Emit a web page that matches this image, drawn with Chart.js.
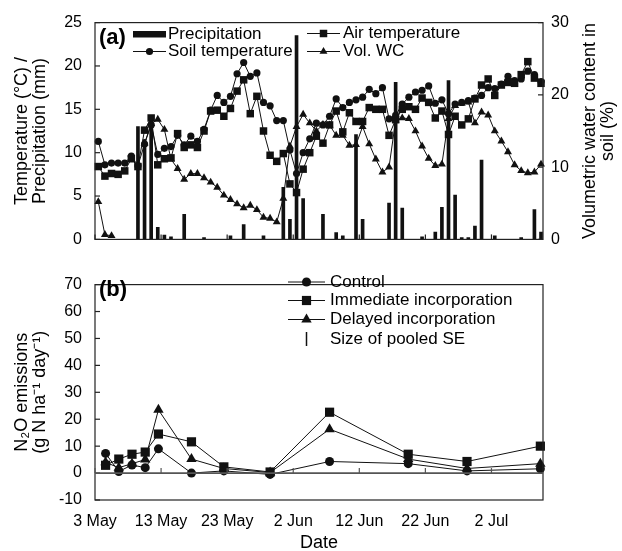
<!DOCTYPE html>
<html>
<head>
<meta charset="utf-8">
<script src="https://cdn.jsdelivr.net/npm/chart.js@4.4.1/dist/chart.umd.min.js"></script>
<style>
html,body{margin:0;padding:0;background:#fff;}
#wrap{position:relative;width:622px;height:551px;overflow:hidden;}
#ca{position:absolute;left:0;top:0;}
#cb{position:absolute;left:0;top:262px;}
</style>
</head>
<body>
<div id="wrap">
<canvas id="ca" width="622" height="262"></canvas>
<canvas id="cb" width="622" height="289"></canvas>
</div>
<script>
// ---------- DATA ----------
// Date axis: days after 3 May; tick labels every 10 days
const tickDays   = [0, 10, 20, 30, 40, 50, 60];
const tickLabels = ['3 May', '13 May', '23 May', '2 Jun', '12 Jun', '22 Jun', '2 Jul'];

// Panel (a): daily series, first value on 3 May (plotted at mid-day)
const dayOffset = 0.5;
const airTemp = [8.4,7.3,7.6,7.5,7.9,9.3,8.4,12.6,14.0,8.6,9.3,9.4,12.2,10.6,10.9,10.6,12.5,14.8,14.9,14.2,
  15.1,17.1,18.4,14.5,16.5,12.5,9.7,9.0,9.9,6.4,5.4,8.1,10.0,11.9,11.1,13.2,14.8,12.4,14.6,13.6,
  13.6,15.2,15.0,15.0,12.0,13.8,15.0,15.3,15.0,16.3,15.8,14.0,14.8,12.1,14.2,13.2,13.9,16.2,17.8,18.5,
  16.6,17.8,18.1,18.0,19.0,20.5,18.6,18.0];
const soilTemp = [11.3,8.6,8.8,8.8,8.8,9.6,8.5,11.0,13.2,9.8,10.5,10.7,12.0,10.9,11.9,11.3,12.7,14.9,16.6,15.8,
  16.5,19.1,20.4,18.8,19.2,15.8,15.4,13.7,13.7,10.3,7.6,10.0,11.6,13.4,13.2,14.2,16.2,15.2,15.8,16.1,
  16.4,17.3,16.8,17.5,13.9,14.3,15.6,16.4,17.0,17.2,17.7,15.7,16.1,14.5,15.6,15.8,16.0,16.3,16.6,17.5,
  17.4,17.9,18.8,18.3,18.5,19.4,19.0,18.2];
const volWC = [5.2,0.65,0.5,null,null,null,null,13.3,16.0,16.6,15.2,11.1,9.8,8.3,9.1,9.1,8.5,7.9,7.2,6.1,
  5.5,4.9,4.35,4.7,4.1,3.05,2.9,2.4,5.65,12.9,15.6,17.3,16.1,15.0,15.9,15.8,14.4,14.4,13.0,13.1,
  15.6,13.2,11.1,9.3,10.0,16.5,16.8,16.7,15.0,12.9,11.2,10.2,10.4,16.7,18.5,18.8,19.0,16.1,17.6,17.2,
  15.0,13.6,12.1,10.3,9.5,9.2,9.3,10.4];
const precipitation = [0,0,0,0,0,0,13.0,11.5,13.8,1.4,0.5,0.3,0,2.9,0,0,0.2,0,0,0,
  0.4,0,1.7,0,0,0.4,0,0,6.0,2.3,23.5,4.7,0,0,2.9,0,0.8,0.4,0,12.1,
  2.3,0,0,0,4.2,18.1,3.6,0,0,0.3,0,0.85,3.7,18.3,5.1,0.2,0.2,1.55,9.15,0,
  0.4,0,0,0,0.2,0,3.45,0.85];

// Panel (b): N2O emissions on sampling days
const sampleDays = [1.6, 3.6, 5.6, 7.6, 9.6, 14.6, 19.5, 26.5, 35.5, 47.4, 56.3, 67.4];
const control    = [7.3, 0.6, 3.0, 2.0, 9.0, 0.0, 0.8, -0.5, 4.3, 3.5, 0.8, 1.6];
const immediate  = [2.9, 5.2, 7.0, 7.8, 14.5, 11.6, 2.3, 0.4, 22.6, 7.0, 4.3, 10.0];
const delayed    = [4.0, 2.0, 3.5, 5.0, 23.5, 5.2, 1.7, 0.2, 16.3, 5.2, 1.7, 3.5];

// ---------- STYLE ----------
const FONT = "'Liberation Sans', Arial, Helvetica, sans-serif";
const INK = '#111';
const AXIS = '#222';
const xMax = 67.8;

const daily = arr => arr.map((v, i) => ({x: i + dayOffset, y: v}));
const sampled = arr => arr.map((v, i) => ({x: sampleDays[i], y: v}));

function line(ctx, x1, y1, x2, y2) { ctx.beginPath(); ctx.moveTo(x1, y1); ctx.lineTo(x2, y2); ctx.stroke(); }
function marker(ctx, style, x, y, r) {
  ctx.beginPath();
  if (style === 'circle') { ctx.arc(x, y, r, 0, Math.PI * 2); }
  else if (style === 'rect') { const s = r * Math.SQRT1_2; ctx.rect(x - s, y - s, 2 * s, 2 * s); }
  else if (style === 'triangle') {
    ctx.moveTo(x, y - r);
    ctx.lineTo(x + r * Math.sin(2 * Math.PI / 3), y - r * Math.cos(2 * Math.PI / 3));
    ctx.lineTo(x + r * Math.sin(4 * Math.PI / 3), y - r * Math.cos(4 * Math.PI / 3));
    ctx.closePath();
  }
  ctx.fill();
}
function legendItem(ctx, x1, x2, y, style, r, label, tx) {
  ctx.strokeStyle = INK; ctx.lineWidth = 1;
  line(ctx, x1, y, x2, y);
  ctx.fillStyle = INK;
  marker(ctx, style, (x1 + x2) / 2, y, r);
  ctx.fillStyle = '#000';
  ctx.fillText(label, tx, y);
}

const lineDs = (label, data, style, r, axis) => ({
  type: 'line', label, data, yAxisID: axis || 'y',
  borderColor: INK, backgroundColor: INK, borderWidth: 1,
  pointStyle: style, pointRadius: r, pointHoverRadius: r,
  pointBackgroundColor: INK, pointBorderColor: INK, pointBorderWidth: 0,
  tension: 0, spanGaps: false, clip: false, order: 1
});

const tickFont = {family: FONT, size: 16};
const titleFont = {family: FONT, size: 18, lineHeight: 1.0};

// ---------- PANEL (a) ----------
const frameA = {
  id: 'frameA',
  afterDraw(chart) {
    const {ctx, chartArea: a, scales} = chart;
    ctx.save();
    ctx.strokeStyle = AXIS; ctx.lineWidth = 1.2;
    ctx.strokeRect(a.left, a.top, a.right - a.left, a.bottom - a.top);
    scales.y.ticks.forEach(t => { const y = scales.y.getPixelForValue(t.value); line(ctx, a.left, y, a.left + 5, y); });
    scales.y2.ticks.forEach(t => { const y = scales.y2.getPixelForValue(t.value); line(ctx, a.right, y, a.right - 5, y); });
    scales.x.ticks.forEach(t => { const x = scales.x.getPixelForValue(t.value); line(ctx, x, a.bottom, x, a.bottom - 5); });
    // right axis title (reads bottom to top, two lines)
    ctx.fillStyle = '#000';
    ctx.font = '18px ' + FONT;
    ctx.textAlign = 'center'; ctx.textBaseline = 'middle';
    const cy = (a.top + a.bottom) / 2;
    [['Volumetric water content in', 590], ['soil (%)', 608]].forEach(([t, x]) => {
      ctx.save(); ctx.translate(x, cy); ctx.rotate(-Math.PI / 2); ctx.fillText(t, 0, 0); ctx.restore();
    });
    // panel label and legend
    ctx.textBaseline = 'middle'; ctx.textAlign = 'left';
    ctx.font = 'bold 22px ' + FONT;
    ctx.fillText('(a)', 99, 38);
    ctx.font = '17px ' + FONT;
    ctx.fillStyle = INK;
    ctx.fillRect(133, 31, 33, 6.5);
    ctx.fillStyle = '#000';
    ctx.fillText('Precipitation', 168, 34);
    legendItem(ctx, 133, 166, 51.5, 'circle', 3.6, 'Soil temperature', 168);
    legendItem(ctx, 307, 340, 33.5, 'rect', 5.3, 'Air temperature', 343);
    legendItem(ctx, 307, 340, 51.5, 'triangle', 4.6, 'Vol. WC', 343);
    ctx.restore();
  }
};

new Chart(document.getElementById('ca'), {
  type: 'bar',
  data: {
    datasets: [
      {type: 'bar', label: 'Precipitation', data: daily(precipitation).filter(p => p.y > 0), yAxisID: 'y',
       backgroundColor: INK, borderWidth: 0, barThickness: 3, order: 10},
      lineDs('Air temperature', daily(airTemp), 'rect', 5.3),
      lineDs('Soil temperature', daily(soilTemp), 'circle', 3.6),
      lineDs('Vol. WC', daily(volWC), 'triangle', 4.6, 'y2')
    ]
  },
  options: {
    responsive: false, animation: false, devicePixelRatio: 1,
    layout: {padding: {left: 0, right: 0, top: 21, bottom: 0}},
    plugins: {legend: {display: false}, tooltip: {enabled: false}},
    scales: {
      x: {type: 'linear', min: 0, max: xMax, offset: false,
          grid: {display: false, drawTicks: false, offset: false}, border: {display: false},
          ticks: {display: false},
          afterBuildTicks: s => { s.ticks = tickDays.map(v => ({value: v})); },
          afterFit: s => { s.height = 10; }},
      y: {position: 'left', min: 0, max: 25,
          ticks: {stepSize: 5, padding: 13, font: tickFont, color: '#000'},
          grid: {display: false, drawTicks: false}, border: {display: false},
          title: {display: true, text: ['Temperature (°C) /', 'Precipitation (mm)'], font: titleFont, color: '#000', padding: {top: 13, bottom: 0}},
          afterFit: s => { s.width = 95; }},
      y2: {position: 'right', min: 0, max: 30,
          ticks: {stepSize: 10, padding: 8, font: tickFont, color: '#000'},
          grid: {display: false, drawTicks: false}, border: {display: false},
          title: {display: false},
          afterFit: s => { s.width = 79; }}
    }
  },
  plugins: [frameA]
});

// ---------- PANEL (b) ----------
const frameB = {
  id: 'frameB',
  afterDraw(chart) {
    const {ctx, chartArea: a, scales} = chart;
    ctx.save();
    ctx.strokeStyle = AXIS; ctx.lineWidth = 1.2;
    ctx.strokeRect(a.left, a.top, a.right - a.left, a.bottom - a.top);
    scales.y.ticks.forEach(t => { const y = scales.y.getPixelForValue(t.value); line(ctx, a.left, y, a.left + 5, y); });
    const y0 = scales.y.getPixelForValue(0);
    ctx.strokeStyle = '#555'; ctx.lineWidth = 1.6;
    line(ctx, a.left, y0, a.right, y0);
    ctx.lineWidth = 1.2;
    scales.x.ticks.forEach(t => { const x = scales.x.getPixelForValue(t.value); line(ctx, x, y0, x, y0 - 5); });
    // panel label and legend
    ctx.fillStyle = '#000'; ctx.textBaseline = 'middle'; ctx.textAlign = 'left';
    ctx.font = 'bold 22px ' + FONT;
    ctx.fillText('(b)', 99, 28);
    ctx.font = '17px ' + FONT;
    legendItem(ctx, 288, 325, 20, 'circle', 4.5, 'Control', 330);
    legendItem(ctx, 288, 325, 38.5, 'rect', 6.5, 'Immediate incorporation', 330);
    legendItem(ctx, 288, 325, 57.5, 'triangle', 6, 'Delayed incorporation', 330);
    ctx.strokeStyle = INK; ctx.lineWidth = 1.5;
    line(ctx, 306.5, 70, 306.5, 84);
    ctx.fillStyle = '#000';
    ctx.fillText('Size of pooled SE', 330, 77);
    ctx.restore();
  }
};

new Chart(document.getElementById('cb'), {
  type: 'line',
  data: {
    datasets: [
      lineDs('Immediate incorporation', sampled(immediate), 'rect', 6.5),
      lineDs('Delayed incorporation', sampled(delayed), 'triangle', 6),
      lineDs('Control', sampled(control), 'circle', 4.5)
    ]
  },
  options: {
    responsive: false, animation: false, devicePixelRatio: 1,
    layout: {padding: {left: 0, right: 79, top: 8, bottom: 0}},
    plugins: {legend: {display: false}, tooltip: {enabled: false}},
    scales: {
      x: {type: 'linear', min: 0, max: xMax, offset: false,
          grid: {display: false, drawTicks: false}, border: {display: false},
          ticks: {padding: 12, font: tickFont, color: '#000', maxRotation: 0, autoSkip: false,
                  callback: v => { const k = tickDays.indexOf(v); return k >= 0 ? tickLabels[k] : ''; }},
          afterBuildTicks: s => { s.ticks = tickDays.map(v => ({value: v})); },
          title: {display: true, text: 'Date', font: {family: FONT, size: 18, lineHeight: 0.9}, color: '#000', padding: {top: 0, bottom: 0}},
          afterFit: s => { s.height = 51; }},
      y: {position: 'left', min: -10, max: 70,
          ticks: {stepSize: 10, padding: 13, font: tickFont, color: '#000'},
          grid: {display: false, drawTicks: false}, border: {display: false},
          title: {display: true, text: ['N₂O emissions', '(g N ha⁻¹ day⁻¹)'], font: titleFont, color: '#000', padding: {top: 13, bottom: 0}},
          afterFit: s => { s.width = 95; }}
    }
  },
  plugins: [frameB]
});
</script>
</body>
</html>
